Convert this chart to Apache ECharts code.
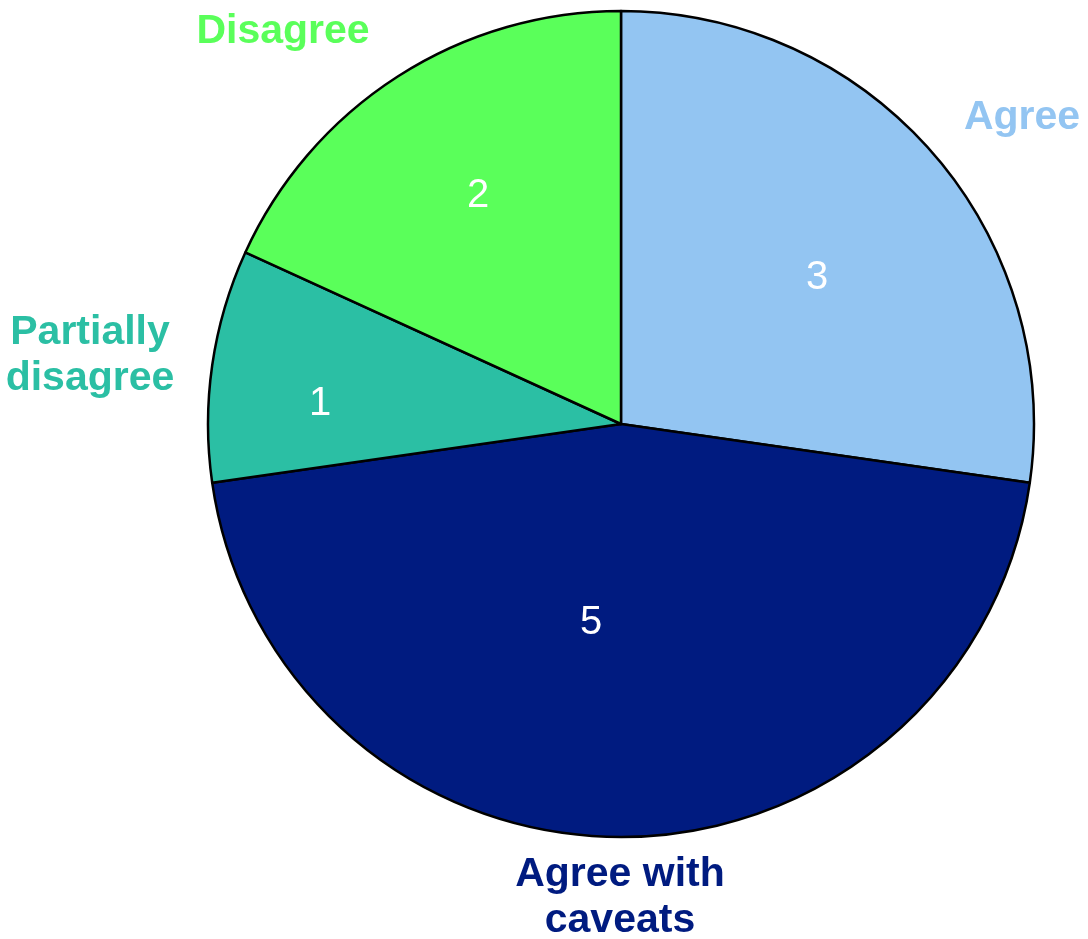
<!DOCTYPE html>
<html>
<head>
<meta charset="utf-8">
<script src="https://cdn.jsdelivr.net/npm/echarts@6/dist/echarts.min.js"></script>
<style>html,body{margin:0;padding:0;background:#fff}#chart{width:1088px;height:939px}</style>
</head>
<body>
<div id="chart"></div>
<script>
const categories = ['Agree', 'Agree with caveats', 'Partially disagree', 'Disagree']
const displayNames = ['Agree', 'Agree with\ncaveats', 'Partially\ndisagree', 'Disagree']
const values = [3, 5, 1, 2]
const colors = ['#93C5F2', '#001B80', '#2BBFA4', '#5AFF5A']

// label anchor spots
const nameSpots = [[1022, 118], [620, 898], [90, 356], [283, 32]]
const valueSpots = [[817, 278], [591, 623], [320, 404], [478, 196]]

let chart = echarts.init(document.getElementById('chart'))
let data = categories.map((c, i) => ({ name: c, value: values[i], itemStyle: { color: colors[i] } }))

chart.setOption({
  animation: false,
  series: [
    {
      type: 'pie',
      center: [621, 424],
      radius: 413,
      startAngle: 90,
      clockwise: true,
      itemStyle: { borderColor: '#000', borderWidth: 2.5 },
      label: {
        position: 'inside',
        formatter: '{c}',
        color: '#fff',
        fontFamily: 'Liberation Sans',
        fontSize: 40
      },
      labelLayout: p => ({ x: valueSpots[p.dataIndex][0], y: valueSpots[p.dataIndex][1], align: 'center', verticalAlign: 'middle' }),
      emphasis: { disabled: true },
      data: data
    },
    {
      type: 'pie',
      center: [621, 424],
      radius: 413,
      startAngle: 90,
      silent: true,
      itemStyle: { color: 'transparent' },
      labelLine: { show: false },
      label: {
        position: 'outside',
        formatter: p => displayNames[p.dataIndex],
        fontFamily: 'Liberation Sans',
        fontWeight: 'bold',
        fontSize: 41,
        lineHeight: 46,
        width: 400,
        overflow: 'none'
      },
      labelLayout: p => ({ x: nameSpots[p.dataIndex][0], y: nameSpots[p.dataIndex][1], align: 'center', verticalAlign: 'middle' }),
      data: categories.map((c, i) => ({ name: c, value: values[i], label: { color: colors[i] } }))
    }
  ]
})
</script>
</body>
</html>
